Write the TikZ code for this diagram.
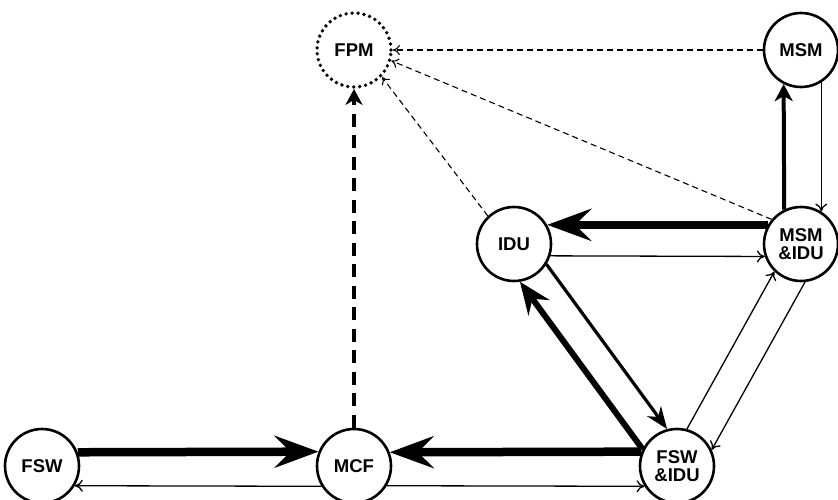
\documentclass[tikz,border=0pt]{standalone}
\usepackage{fontspec}
\setmainfont{Liberation Sans}
\usetikzlibrary{arrows.meta}
\begin{document}
\begin{tikzpicture}[x=1pt,y=-1pt,
  state/.style={circle, draw, line width=2.6pt, minimum size=74pt, inner sep=0pt,
    font=\bfseries\fontsize{18.5}{18}\selectfont, align=center},
  pending/.style={state, line width=3.8pt, line cap=round, dash pattern=on 0pt off 6pt},
  heavyflow/.style={line width=8.5pt, -{Stealth[length=44pt,width=32pt,inset=16pt]}},
  strongflow/.style={line width=6pt, -{Stealth[length=32pt,width=26pt,inset=11pt]}},
  boldflow/.style={line width=4pt, -{Stealth[length=17pt,width=18pt,inset=5pt]}},
  midflow/.style={line width=3.2pt, -{Stealth[length=22pt,width=17pt,inset=7pt]}},
  fineflow/.style={line width=1.3pt, -{To[length=8pt,width=12pt]}},
  hintflow/.style={line width=1.1pt, dash pattern=on 6pt off 4pt, -{To[length=7pt,width=10pt]}},
  pendingflow/.style={line width=3.4pt, dash pattern=on 13pt off 8.5pt,
    -{Stealth[length=16pt,width=17pt,inset=5pt]}}]
\useasboundingbox (0,0) rectangle (838,500);
\clip (0,0) rectangle (838,500);

% states
\node[pending] (fpm)    at (354,50)  {FPM};
\node[state]   (msm)    at (801,50)  {MSM};
\node[state]   (idu)    at (514,244) {IDU};
\node[state]   (msmidu) at (801,244) {MSM\\\&IDU};
\node[state]   (fsw)    at (42,466)  {FSW};
\node[state]   (mcf)    at (354,466) {MCF};
\node[state]   (fswidu) at (677,466) {FSW\\\&IDU};

% bottom row
\draw[heavyflow] (fsw.21.6) -- (mcf.158.4);
\draw[fineflow]  (mcf.-148.2) -- (fsw.-31.8);
\draw[heavyflow] (fswidu.158.4) -- (mcf.21.6);
\draw[fineflow]  (mcf.-31.8) -- (fswidu.-148.2);

% towards FPM
\draw[pendingflow] (mcf.90) -- (fpm.270);
\draw[hintflow] (msm.180) -- (fpm.0);
\draw[hintflow] (msmidu.140) -- (fpm.-16);
\draw[hintflow] (idu.133) -- (fpm.-44);

% MSM / MSM&IDU
\draw[boldflow] (msmidu.116.6) -- (msm.243.4);
\draw[fineflow] (msm.-58.2) -- (msmidu.58.2);

% IDU / MSM&IDU
\draw[heavyflow] (msmidu.150) -- (idu.30);
\draw[fineflow]  (idu.-18.4) -- (msmidu.-161.6);

% IDU / FSW&IDU
\draw[strongflow] (fswidu.154.3) -- (idu.-81.7);
\draw[midflow]    (idu.-32.7) -- (fswidu.105.3);

% FSW&IDU / MSM&IDU
\draw[fineflow] (fswidu.75.8) -- (msmidu.-134.2);
\draw[fineflow] (msmidu.-84.2) -- (fswidu.25.8);
\end{tikzpicture}
\end{document}
